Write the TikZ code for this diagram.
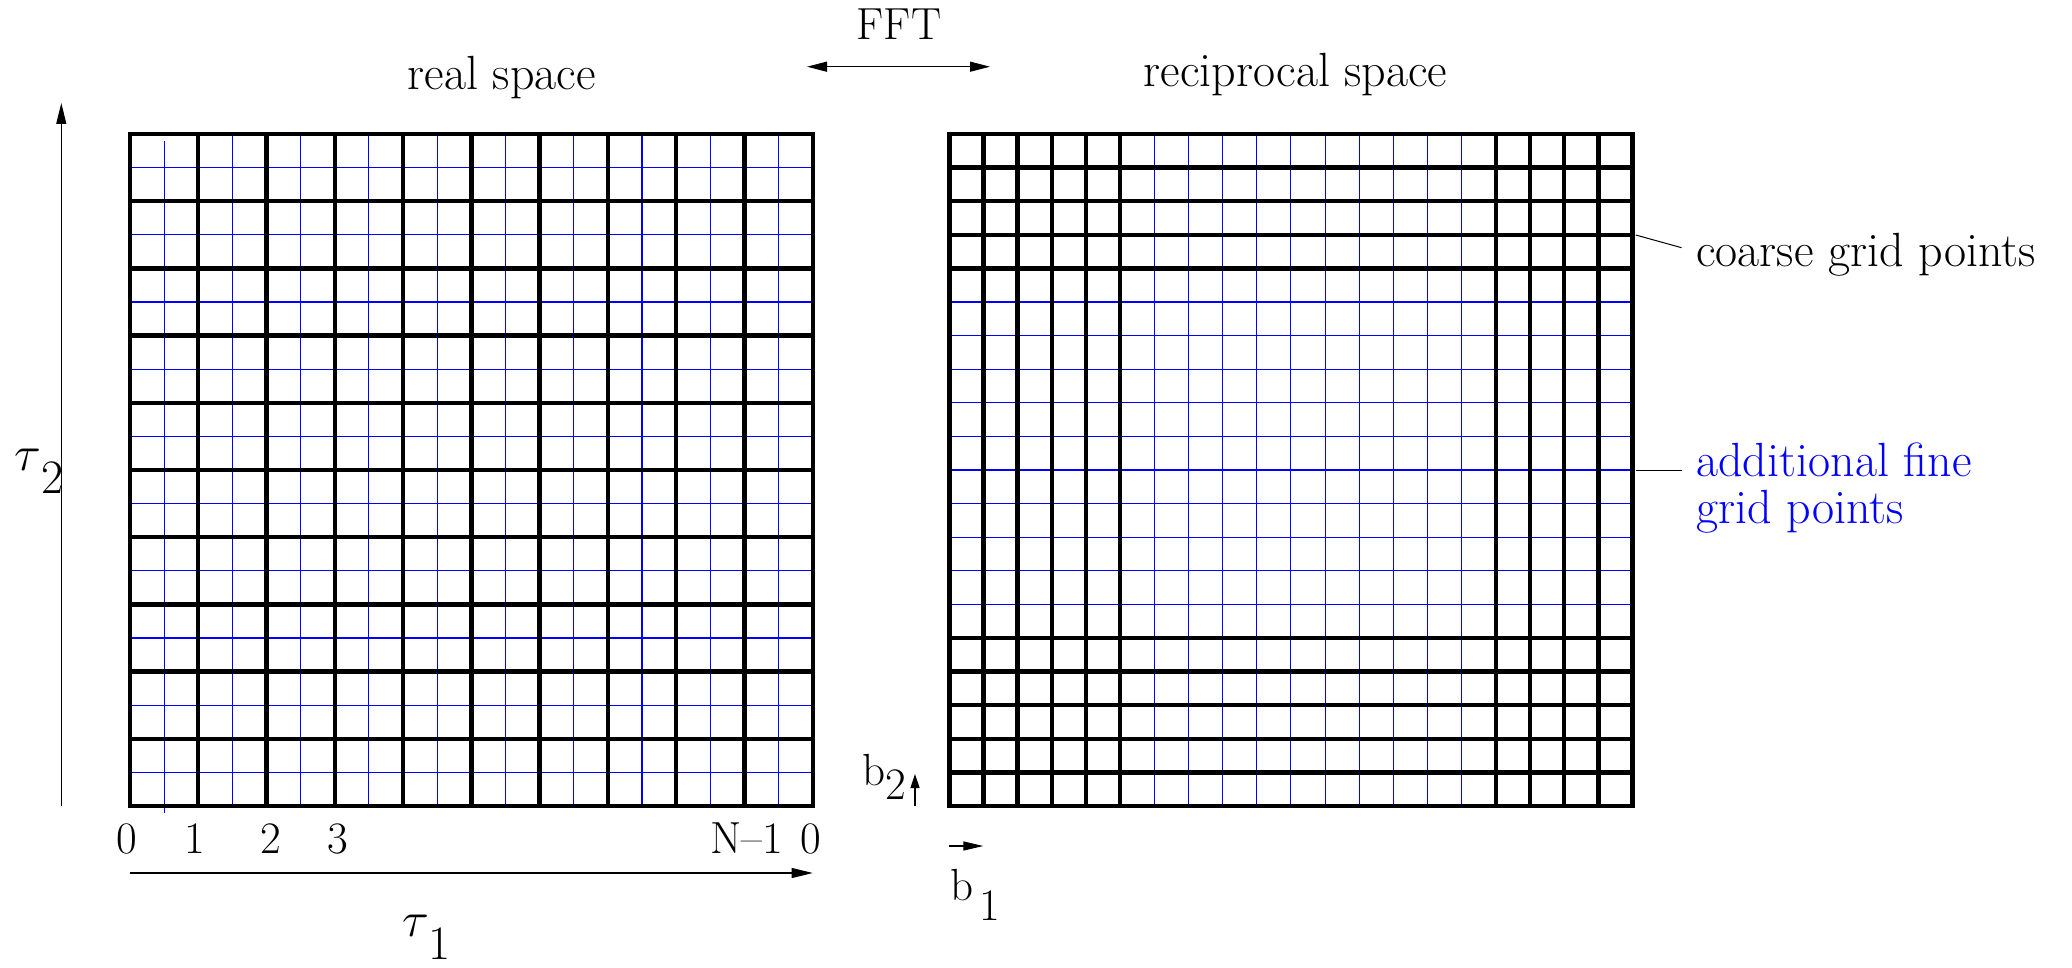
\documentclass[tikz,border=0pt]{standalone}
\usetikzlibrary{arrows.meta}
\begin{document}
\begin{tikzpicture}[x=0.5pt,y=-0.5pt,
  coarseline/.style={line width=2.2pt, black},
  fineline/.style={line width=0.55pt, blue},
  axis/.style={line width=0.6pt, -{Triangle[length=10.5pt,width=5pt]}},
  lbl/.style={font=\fontsize{24}{28}\selectfont, inner sep=0pt, anchor=base},
  num/.style={font=\fontsize{22.5}{26}\selectfont, inner sep=0pt, anchor=base},
]
\useasboundingbox (0,0) rectangle (2072,968);

% ---------- real-space grid ----------
\draw[fineline] (164.1,141) -- (164.1,813);
\foreach \i in {3,5,...,19}
  \draw[fineline] ({130+\i*34.135},134) -- ({130+\i*34.135},806);
\foreach \j in {1,3,...,19}
  \draw[fineline] (130,{134+\j*33.6}) -- (812.7,{134+\j*33.6});
\foreach \i in {2,4,...,18}
  \draw[coarseline] ({130+\i*34.135},134) -- ({130+\i*34.135},806);
\foreach \j in {2,4,...,18}
  \draw[coarseline] (130,{134+\j*33.6}) -- (812.7,{134+\j*33.6});
\draw[coarseline] (130,134) rectangle (812.7,806);

% ---------- reciprocal-space grid ----------
\foreach \i in {6,...,15}
  \draw[fineline] ({949.3+\i*34.16},134) -- ({949.3+\i*34.16},806);
\foreach \j in {5,...,14}
  \draw[fineline] (949.3,{134+\j*33.6}) -- (1632.5,{134+\j*33.6});
\foreach \i in {1,...,5,16,17,18,19}
  \draw[coarseline] ({949.3+\i*34.16},134) -- ({949.3+\i*34.16},806);
\foreach \j in {1,...,4,15,16,17,18,19}
  \draw[coarseline] (949.3,{134+\j*33.6}) -- (1632.5,{134+\j*33.6});
\draw[coarseline] (949.3,134) rectangle (1632.5,806);

% ---------- titles ----------
\node[lbl] (real) at (501.7,90) {real space};
\node[lbl] (recip) at (1295.6,87) {reciprocal space};
\node[num] (fft) at (899,40) {FFT};
\coordinate (fftL) at (807,66.7);
\coordinate (fftR) at (990,66.7);
\draw[line width=0.6pt, {Triangle[length=10pt,width=5pt]}-{Triangle[length=10pt,width=5pt]}] (fftL) -- (fftR);

% ---------- axes ----------
\coordinate (t2a) at (61.3,806);
\coordinate (t2b) at (61.3,103);
\draw[axis] (t2a) -- (t2b);
\coordinate (t1a) at (130,873);
\coordinate (t1b) at (812.7,873);
\draw[axis] (t1a) -- (t1b);
\node[lbl, anchor=base west] (tau1) at (401.7,936) {$\tau$\raisebox{-11.5pt}{1}};
\node[lbl, anchor=base west] (tau2) at (14,470) {$\tau$\raisebox{-11.5pt}{2}};

\node[num] (n0) at (126.7,853) {0};
\node[num] (n1) at (195,853) {1};
\node[num] (n2) at (270.7,853) {2};
\node[num] (n3) at (338.3,853) {3};
\node[num, anchor=base west] (nN) at (710,853) {N\textendash 1};
\node[num] (nz) at (810.7,853) {0};

% ---------- reciprocal basis ----------
\coordinate (b2a) at (915,806);
\coordinate (b2b) at (915,774);
\draw[line width=0.6pt, -{Triangle[length=7pt,width=4.5pt]}] (b2a) -- (b2b);
\node[num, anchor=base west] (b2) at (861.7,785) {b\raisebox{-7pt}{2}};
\coordinate (b1a) at (949.3,846);
\coordinate (b1b) at (983.3,846);
\draw[line width=0.6pt, -{Triangle[length=10pt,width=4.5pt]}] (b1a) -- (b1b);
\node[num, anchor=base west] (b1) at (950,900) {b\hspace{3pt}\raisebox{-10pt}{1}};

% ---------- annotations ----------
\node[lbl, anchor=base west] (coarse) at (1696,266.7) {coarse grid points};
\coordinate (cA) at (1635.7,235);
\coordinate (cB) at (1681.5,247.7);
\draw[line width=0.5pt] (cA) -- (cB);
\node[lbl, anchor=base west, text=blue] (fine1) at (1696,476.7) {additional fine};
\node[lbl, anchor=base west, text=blue] (fine2) at (1696,523.3) {grid points};
\coordinate (fA) at (1635.7,470);
\coordinate (fB) at (1681.5,470);
\draw[line width=0.5pt] (fA) -- (fB);
\end{tikzpicture}
\end{document}
